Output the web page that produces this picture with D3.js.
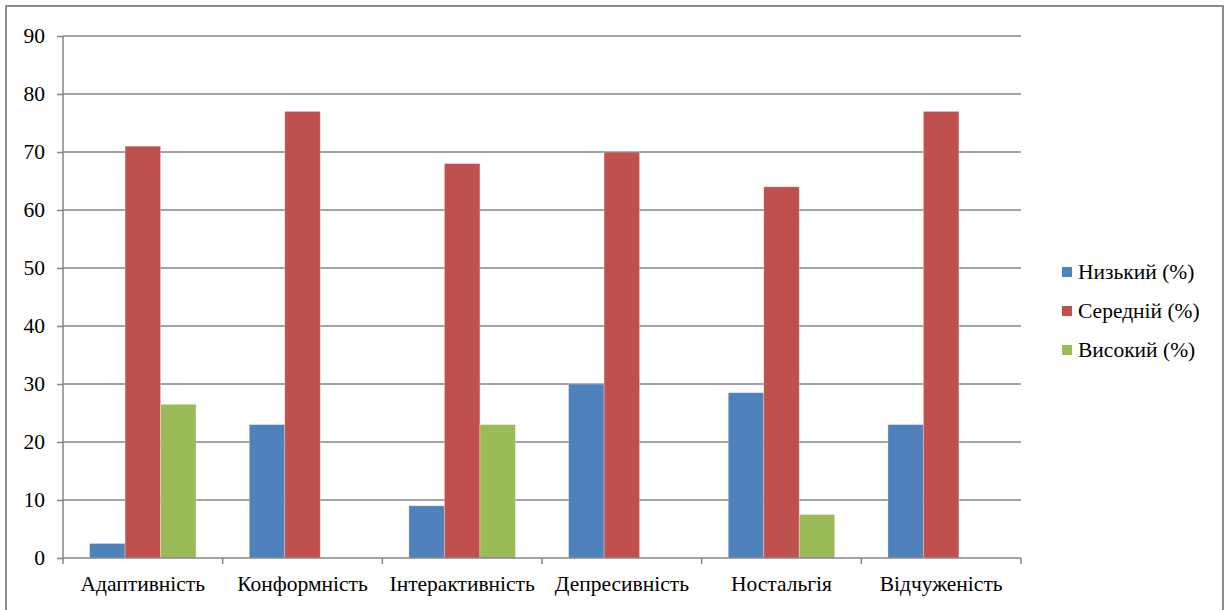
<!DOCTYPE html>
<html>
<head>
<meta charset="utf-8">
<script src="https://cdn.jsdelivr.net/npm/d3@7"></script>
<style>
  html, body { margin: 0; padding: 0; background: #fff; }
  svg { display: block; }
</style>
</head>
<body>
<svg id="chart" width="1230" height="610"></svg>
<script>
// Categories and series (percent)
const categories = ["Адаптивність", "Конформність", "Інтерактивність", "Депресивність", "Ностальгія", "Відчуженість"];
const seriesNames = ["Низький (%)", "Середній (%)", "Високий (%)"];
const low    = [2.5, 23, 9, 30, 28.5, 23];
const medium = [71, 77, 68, 70, 64, 77];
const high   = [26.5, 0, 23, 0, 7.5, 0];
const yTicks = [0, 10, 20, 30, 40, 50, 60, 70, 80, 90];
const colors = ["#4f81bd", "#c0504d", "#9bbb59"];

const series = [low, medium, high];
const FONT = "Liberation Serif";

function serifText(sel) {
  sel.style("font-family", FONT).style("font-size", "21.5px").attr("fill", "#000");
}

const svg = d3.select("#chart");
const W = 1230, H = 610;
const plot = { left: 63, right: 1021, top: 36, bottom: 558 };

// Outer frame (open at the bottom edge)
svg.append("path")
  .attr("d", `M6,${H + 5} L6,6 L1223,6 L1223,${H + 5}`)
  .attr("fill", "none")
  .attr("stroke", "#8c8c8c")
  .attr("stroke-width", 2);

const y = d3.scaleLinear().domain([0, 90]).range([plot.bottom, plot.top]);
const x0 = d3.scaleBand().domain(categories).range([plot.left, plot.right]).paddingInner(0).paddingOuter(0);
const groupW = x0.bandwidth() * 2 / 3;
const x1 = d3.scaleBand().domain(d3.range(series.length)).range([0, groupW]).padding(0);

// Horizontal gridlines
svg.append("g")
  .selectAll("line")
  .data(yTicks.filter(t => t > 0))
  .join("line")
  .attr("x1", plot.left).attr("x2", plot.right)
  .attr("y1", d => y(d)).attr("y2", d => y(d))
  .attr("stroke", "#868686").attr("stroke-width", 1.5);

// Bars
const groups = svg.append("g")
  .selectAll("g")
  .data(categories)
  .join("g")
  .attr("transform", d => `translate(${x0(d) + (x0.bandwidth() - groupW) / 2},0)`);

groups.selectAll("rect")
  .data((c, i) => series.map((s, k) => ({ k, v: s[i] })).filter(d => d.v > 0))
  .join("rect")
  .attr("x", d => x1(d.k))
  .attr("width", x1.bandwidth())
  .attr("y", d => y(d.v))
  .attr("height", d => y(0) - y(d.v))
  .attr("fill", d => colors[d.k])
  .attr("stroke", "#ffffff")
  .attr("stroke-opacity", 0.35)
  .attr("stroke-width", 0.8);

// Y axis
const yAxis = svg.append("g")
  .attr("transform", `translate(${plot.left},0)`)
  .call(d3.axisLeft(y).tickValues(yTicks).tickSize(6).tickPadding(12).tickFormat(d3.format("d")));
yAxis.select(".domain").attr("stroke", "#868686").attr("stroke-width", 1.5)
  .attr("d", `M0,${plot.bottom}V${plot.top}`);
yAxis.selectAll(".tick line").attr("stroke", "#868686").attr("stroke-width", 1.5);
yAxis.selectAll(".tick text").call(serifText);

// X axis
const boundaries = categories.map(c => x0(c)).concat([plot.right]);
svg.append("line")
  .attr("x1", plot.left).attr("x2", plot.right)
  .attr("y1", plot.bottom).attr("y2", plot.bottom)
  .attr("stroke", "#868686").attr("stroke-width", 1.5);
svg.append("g")
  .selectAll("line")
  .data(boundaries)
  .join("line")
  .attr("x1", d => d).attr("x2", d => d)
  .attr("y1", plot.bottom).attr("y2", plot.bottom + 6)
  .attr("stroke", "#868686").attr("stroke-width", 1.5);
svg.append("g")
  .selectAll("text")
  .data(categories)
  .join("text")
  .attr("x", d => x0(d) + x0.bandwidth() / 2)
  .attr("y", plot.bottom + 33)
  .attr("text-anchor", "middle")
  .call(serifText)
  .text(d => d);

// Legend
const legend = svg.append("g").attr("transform", "translate(1062,272)");
const items = legend.selectAll("g")
  .data(seriesNames)
  .join("g")
  .attr("transform", (d, i) => `translate(0,${i * 39})`);
items.append("rect")
  .attr("x", 0).attr("y", -5)
  .attr("width", 10).attr("height", 10)
  .attr("fill", (d, i) => colors[i]);
items.append("text")
  .attr("x", 16).attr("y", 7)
  .call(serifText)
  .text(d => d);
</script>
</body>
</html>
